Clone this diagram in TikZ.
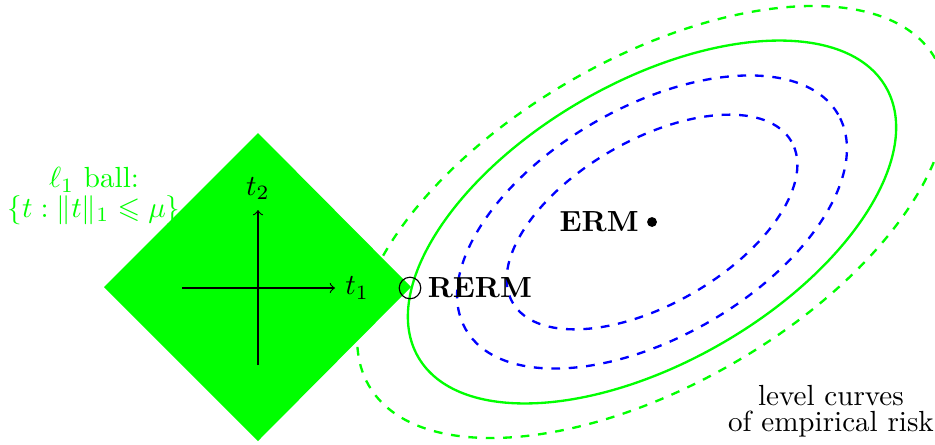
\documentclass[tikz,border=0pt]{standalone}
\usepackage{amsmath,amssymb}
\usetikzlibrary{positioning}
\begin{document}
\begin{tikzpicture}[x=0.3436pt, y=0.3436pt,
    level/.style={thick, dashed},
    dot/.style={circle, fill=black, inner sep=0pt, minimum size=3.4pt},
    ring/.style={circle, draw=black, inner sep=0pt, minimum size=7.4pt},
  ]
  \clip (0,0) rectangle (935,444);
  % level curves
  \coordinate (c) at (652,222);
  \draw[level, green] (c) ellipse [x radius=327, y radius=163, rotate=30];
  \draw[thick, green] (c) ellipse [x radius=270, y radius=140, rotate=30];
  \draw[level, blue] (c) ellipse [x radius=215, y radius=115, rotate=30];
  \draw[level, blue] (c) ellipse [x radius=161, y radius=82, rotate=30];
  % l1 ball
  \fill[green] (258,311) -- (411,157) -- (258,3) -- (104,157) -- cycle;
  \coordinate (xs) at (182,156);
  \coordinate (xe) at (335,156);
  \coordinate (ys) at (258,79);
  \coordinate (ye) at (258,234);
  \draw[->] (xs) -- (xe) node[right] (t1) {$t_1$};
  \draw[->] (ys) -- (ye) node[above] (t2) {$t_2$};
  \node[green, align=center] (ball) at (94,248) {$\ell_1$ ball:\\[-2pt] $\{t : \|t\|_1 \leqslant \mu\}$};
  % minimizers
  \node[ring] (rerm) at (410,156) {};
  \node[right=1pt of rerm, inner sep=1pt] (rermtxt) {\textbf{RERM}};
  \node[dot] (erm) at (c) {};
  \node[left=1.5pt of erm, inner sep=1pt] (ermtxt) {\textbf{ERM}};
  \node[align=center] (curves) at (831,33) {level curves\\[-3pt] of empirical risk};
\end{tikzpicture}
\end{document}
